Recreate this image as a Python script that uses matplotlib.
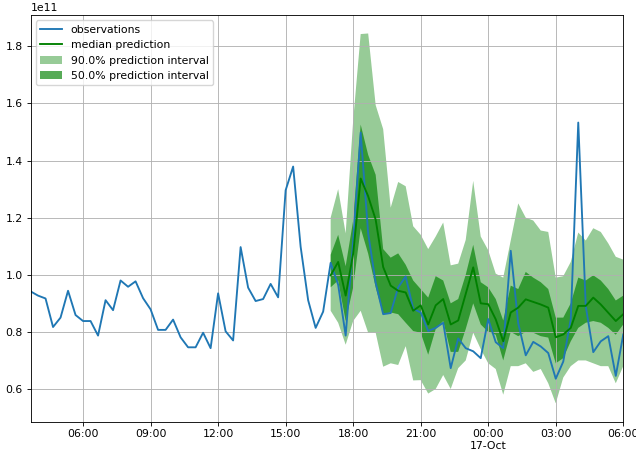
import numpy as np
import pandas as pd
import matplotlib
matplotlib.use("Agg")
import matplotlib.pyplot as plt
import matplotlib.dates as mdates

start = "2021-10-16 03:40"
fc_start = "2021-10-16 17:00"

# observed values (x 1e11), every 20 minutes
observations = [
    0.942, 0.927, 0.917, 0.817, 0.850, 0.944, 0.859, 0.838, 0.838, 0.787,
    0.911, 0.876, 0.980, 0.958, 0.977, 0.918, 0.879, 0.807, 0.807, 0.843,
    0.781, 0.746, 0.746, 0.797, 0.743, 0.935, 0.802, 0.770, 1.097, 0.955,
    0.908, 0.915, 0.968, 0.921, 1.296, 1.379, 1.098, 0.911, 0.814, 0.871,
    1.042, 0.965, 0.787, 1.120, 1.498, 1.145, 0.972, 0.862, 0.866, 0.956,
    0.994, 0.881, 0.868, 0.803, 0.814, 0.832, 0.673, 0.777, 0.743, 0.732,
    0.708, 0.845, 0.764, 0.743, 1.084, 0.830, 0.718, 0.765, 0.749, 0.726,
    0.636, 0.696, 0.845, 1.533, 0.890, 0.729, 0.767, 0.785, 0.646, 0.791,
]

median = [
    0.998, 1.045, 0.927, 1.074, 1.337, 1.275, 1.193, 1.027, 0.962, 0.944,
    0.938, 0.874, 0.893, 0.826, 0.893, 0.915, 0.826, 0.840, 0.933, 1.026,
    0.900, 0.897, 0.844, 0.767, 0.868, 0.885, 0.914, 0.905, 0.896, 0.885,
    0.781, 0.791, 0.814, 0.891, 0.891, 0.920, 0.896, 0.867, 0.838, 0.862,
]

q75 = [
    1.070, 1.140, 1.030, 1.190, 1.526, 1.420, 1.350, 1.090, 1.060, 1.075,
    1.035, 0.980, 0.950, 0.920, 0.995, 0.980, 0.900, 0.915, 1.000, 1.105,
    0.974, 0.956, 0.915, 0.840, 0.962, 0.950, 1.010, 0.990, 0.974, 0.950,
    0.850, 0.850, 0.900, 0.990, 0.980, 0.998, 0.980, 0.950, 0.910, 0.927,
]

q25 = [
    0.956, 0.980, 0.838, 0.956, 1.163, 1.074, 0.956, 0.862, 0.868, 0.862,
    0.832, 0.803, 0.797, 0.720, 0.810, 0.838, 0.730, 0.730, 0.810, 0.900,
    0.826, 0.800, 0.790, 0.700, 0.800, 0.785, 0.800, 0.797, 0.785, 0.780,
    0.690, 0.708, 0.767, 0.814, 0.832, 0.838, 0.832, 0.814, 0.790, 0.826,
]

q95 = [
    1.200, 1.300, 1.145, 1.540, 1.843, 1.845, 1.594, 1.510, 1.235, 1.325,
    1.310, 1.170, 1.140, 1.090, 1.134, 1.183, 1.033, 1.039, 1.122, 1.329,
    1.134, 1.086, 1.004, 0.990, 1.120, 1.250, 1.200, 1.190, 1.155, 1.150,
    0.990, 0.995, 1.045, 1.148, 1.120, 1.163, 1.150, 1.110, 1.063, 1.053,
]

q05 = [
    0.874, 0.832, 0.755, 0.838, 0.874, 0.797, 0.797, 0.678, 0.690, 0.684,
    0.750, 0.630, 0.631, 0.584, 0.600, 0.649, 0.600, 0.673, 0.700, 0.797,
    0.740, 0.690, 0.670, 0.580, 0.680, 0.680, 0.690, 0.660, 0.670, 0.620,
    0.550, 0.640, 0.680, 0.700, 0.700, 0.690, 0.680, 0.680, 0.620, 0.680,
]

scale = 1e11
k = 0.78  # the reference looks like a shrunk-down render

plt.rcParams.update({
    "font.size": 10 * k,
    "lines.linewidth": 1.35,
    "grid.linewidth": 0.8 * k,
    "axes.linewidth": 0.8 * k,
    "xtick.major.size": 3.5 * k,
    "ytick.major.size": 3.5 * k,
    "xtick.major.width": 0.8 * k,
    "ytick.major.width": 0.8 * k,
    "xtick.major.pad": 3.5 * k,
    "ytick.major.pad": 3.5 * k,
    "legend.fontsize": 10 * k,
})

obs_idx = pd.date_range(start, periods=len(observations), freq="20min")
fc_idx = pd.date_range(fc_start, periods=len(median), freq="20min")

fig = plt.figure(figsize=(6.36, 4.54), dpi=100)
ax = fig.add_axes([0.048, 0.071, 0.932, 0.896])

ax.plot(obs_idx, np.array(observations) * scale, color="#1f77b4",
        label="observations")
ax.plot(fc_idx, np.array(median) * scale, color="g",
        label="median prediction")
ax.fill_between(fc_idx, np.array(q05) * scale, np.array(q95) * scale,
                facecolor="g", alpha=0.05 ** 0.3, lw=0, interpolate=True,
                label="90.0% prediction interval")
ax.fill_between(fc_idx, np.array(q25) * scale, np.array(q75) * scale,
                facecolor="g", alpha=0.25 ** 0.3, lw=0, interpolate=True,
                label="50.0% prediction interval")

ax.set_xlim(obs_idx[0], obs_idx[-1])
ax.xaxis.set_major_locator(mdates.HourLocator(byhour=range(0, 24, 3)))


def fmt(x, pos):
    d = mdates.num2date(x)
    if d.hour == 0:
        return d.strftime("%H:%M\n%d-%b")
    return d.strftime("%H:%M")


ax.xaxis.set_major_formatter(plt.FuncFormatter(fmt))
ax.grid(True, which="both", color="#b0b0b0")
ax.legend(loc="upper left")

fig.savefig("out.png", dpi=100)
